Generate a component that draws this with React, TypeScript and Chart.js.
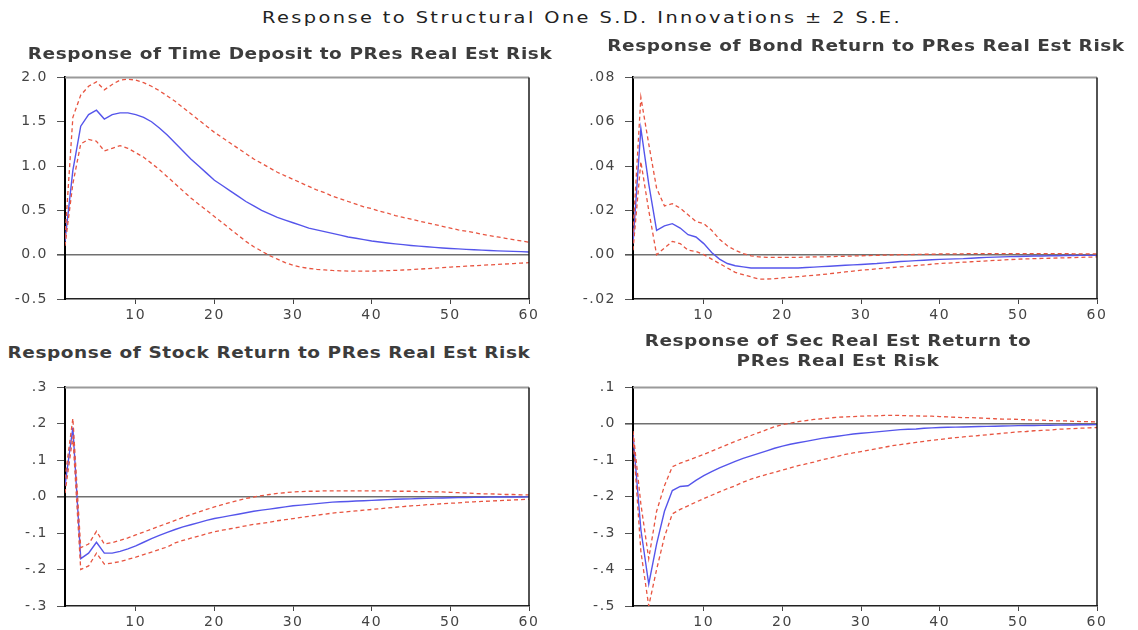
import React, { useEffect, useRef } from "react";
import { Chart, registerables } from "chart.js";

Chart.register(...registerables);

// ---------- data ----------
const PERIODS = Array.from({ length: 60 }, (_, i) => i + 1);
const X_TICKS = [10, 20, 30, 40, 50, 60];

const MAIN_TITLE = "Response to Structural One S.D. Innovations \u00b1 2 S.E.";

const TD_TITLE = ["Response of Time Deposit to PRes Real Est Risk"];
const TD_RESPONSE = [
  0.15, 0.95, 1.45, 1.58, 1.63, 1.53, 1.58, 1.6, 1.6, 1.58,
  1.55, 1.5, 1.43, 1.35, 1.26, 1.17, 1.08, 1.0, 0.92, 0.84,
  0.78, 0.72, 0.66, 0.6, 0.55, 0.5, 0.46, 0.42, 0.39, 0.36,
  0.33, 0.3, 0.28, 0.26, 0.24, 0.22, 0.2, 0.185, 0.17, 0.155,
  0.143, 0.132, 0.122, 0.113, 0.104, 0.096, 0.089, 0.082, 0.076, 0.07,
  0.065, 0.06, 0.055, 0.051, 0.047, 0.043, 0.04, 0.037, 0.034, 0.031,
];
const TD_UPPER = [
  0.2, 1.55, 1.8, 1.9, 1.95, 1.86, 1.92, 1.97, 1.98, 1.97,
  1.94, 1.9, 1.85, 1.79, 1.73, 1.66, 1.59, 1.52, 1.45, 1.38,
  1.32, 1.26, 1.2, 1.14, 1.08, 1.03, 0.98, 0.93, 0.89, 0.85,
  0.81, 0.77, 0.73, 0.7, 0.66, 0.63, 0.6, 0.57, 0.54, 0.52,
  0.49, 0.47, 0.44, 0.42, 0.4, 0.38, 0.36, 0.34, 0.32, 0.3,
  0.28, 0.265, 0.25, 0.23, 0.215, 0.2, 0.185, 0.17, 0.155, 0.14,
];
const TD_LOWER = [
  0.1, 0.8, 1.25, 1.3, 1.28, 1.17, 1.2, 1.23, 1.2, 1.15,
  1.1, 1.03, 0.96, 0.88, 0.8, 0.72, 0.64, 0.57, 0.5, 0.43,
  0.36, 0.29, 0.22, 0.15, 0.09, 0.04, -0.01, -0.05, -0.09, -0.12,
  -0.14, -0.155, -0.165, -0.172, -0.178, -0.182, -0.185, -0.186, -0.186, -0.185,
  -0.183, -0.18, -0.177, -0.173, -0.168, -0.163, -0.158, -0.152, -0.146, -0.14,
  -0.135, -0.13, -0.125, -0.12, -0.115, -0.11, -0.105, -0.1, -0.095, -0.09,
];
const TD_Y_TICKS = [-0.5, 0, 0.5, 1, 1.5, 2];
const TD_Y_LABELS = ["-0.5", "0.0", "0.5", "1.0", "1.5", "2.0"];

const BOND_TITLE = ["Response of Bond Return to PRes Real Est Risk"];
const BOND_RESPONSE = [
  0.005, 0.057, 0.032, 0.011, 0.013, 0.014, 0.012, 0.009, 0.008, 0.005,
  0.001, -0.002, -0.004, -0.005, -0.0055, -0.006, -0.006, -0.006, -0.006, -0.006,
  -0.006, -0.006, -0.0058, -0.0056, -0.0054, -0.0052, -0.005, -0.0048, -0.0046, -0.0044,
  -0.0042, -0.004, -0.0037, -0.0034, -0.0031, -0.0029, -0.0027, -0.0025, -0.0023, -0.0021,
  -0.002, -0.0019, -0.0018, -0.0016, -0.0014, -0.0012, -0.0011, -0.001, -0.0009, -0.0008,
  -0.0007, -0.0006, -0.0006, -0.0005, -0.0005, -0.0004, -0.0004, -0.0003, -0.0003, -0.0003,
];
const BOND_UPPER = [
  0.01, 0.071, 0.05, 0.03, 0.022, 0.023, 0.021, 0.018, 0.015, 0.014,
  0.011, 0.007, 0.004, 0.002, 0.0005, -0.0005, -0.001, -0.0012, -0.0012, -0.0012,
  -0.0012, -0.0012, -0.0011, -0.001, -0.001, -0.0009, -0.0008, -0.0007, -0.0006, -0.0005,
  -0.0004, -0.0003, -0.0002, -0.0001, 0.0, 0.0, 0.0001, 0.0002, 0.0002, 0.0003,
  0.0004, 0.0004, 0.0004, 0.0005, 0.0005, 0.0005, 0.0005, 0.0005, 0.0005, 0.0005,
  0.0005, 0.0005, 0.0005, 0.0005, 0.0005, 0.0005, 0.0004, 0.0004, 0.0004, 0.0004,
];
const BOND_LOWER = [
  0.002, 0.042, 0.02, 0.0, 0.003, 0.006, 0.005, 0.002, 0.0015, 0.0,
  -0.002, -0.004, -0.006, -0.008, -0.009, -0.01, -0.011, -0.011, -0.0108, -0.0105,
  -0.0102, -0.0099, -0.0096, -0.0093, -0.009, -0.0086, -0.0082, -0.0078, -0.0074, -0.007,
  -0.0067, -0.0064, -0.0061, -0.0058, -0.0055, -0.0052, -0.0049, -0.0046, -0.0043, -0.004,
  -0.0038, -0.0036, -0.0034, -0.0032, -0.003, -0.0028, -0.0026, -0.0024, -0.0022, -0.002,
  -0.0019, -0.0018, -0.0017, -0.0016, -0.0015, -0.0014, -0.0013, -0.0012, -0.0011, -0.001,
];
const BOND_Y_TICKS = [-0.02, 0, 0.02, 0.04, 0.06, 0.08];
const BOND_Y_LABELS = ["-.02", ".00", ".02", ".04", ".06", ".08"];

const STOCK_TITLE = ["Response of Stock Return to PRes Real Est Risk"];
const STOCK_RESPONSE = [
  0.03, 0.19, -0.17, -0.155, -0.125, -0.155, -0.155, -0.15, -0.143, -0.135,
  -0.125, -0.115, -0.106, -0.098, -0.09, -0.083, -0.077, -0.071, -0.065, -0.06,
  -0.056, -0.052, -0.048, -0.044, -0.04, -0.037, -0.034, -0.031, -0.028, -0.025,
  -0.023, -0.021, -0.019, -0.017, -0.015, -0.014, -0.013, -0.012, -0.011, -0.01,
  -0.009, -0.008, -0.007, -0.0065, -0.006, -0.005, -0.0045, -0.004, -0.0035, -0.003,
  -0.0025, -0.002, -0.0018, -0.0015, -0.0012, -0.001, -0.001, -0.0008, -0.0007, -0.0006,
];
const STOCK_UPPER = [
  0.05, 0.215, -0.14, -0.13, -0.095, -0.13, -0.126, -0.12, -0.113, -0.105,
  -0.097, -0.089, -0.081, -0.073, -0.065, -0.057, -0.049, -0.042, -0.035, -0.028,
  -0.022, -0.016, -0.01, -0.005, -0.001, 0.003, 0.006, 0.009, 0.011, 0.013,
  0.014, 0.015, 0.015, 0.016, 0.016, 0.016, 0.016, 0.016, 0.016, 0.016,
  0.016, 0.016, 0.015, 0.015, 0.015, 0.014, 0.014, 0.013, 0.013, 0.012,
  0.011, 0.01, 0.009, 0.008, 0.008, 0.007, 0.006, 0.006, 0.005, 0.005,
];
const STOCK_LOWER = [
  0.01, 0.165, -0.2, -0.19, -0.155, -0.185, -0.182, -0.178, -0.172, -0.166,
  -0.159, -0.152, -0.145, -0.138, -0.127, -0.12, -0.114, -0.108, -0.102, -0.096,
  -0.092, -0.088, -0.084, -0.08, -0.076, -0.073, -0.07, -0.066, -0.063, -0.06,
  -0.057, -0.054, -0.051, -0.048, -0.045, -0.043, -0.041, -0.039, -0.037, -0.035,
  -0.033, -0.031, -0.029, -0.027, -0.025, -0.024, -0.022, -0.021, -0.019, -0.018,
  -0.017, -0.015, -0.014, -0.013, -0.012, -0.011, -0.01, -0.009, -0.008, -0.007,
];
const STOCK_Y_TICKS = [-0.3, -0.2, -0.1, 0, 0.1, 0.2, 0.3];
const STOCK_Y_LABELS = ["-.3", "-.2", "-.1", ".0", ".1", ".2", ".3"];

const SEC_TITLE = ["Response of Sec Real Est Return to", "PRes Real Est Risk"];
const SEC_RESPONSE = [
  -0.03, -0.29, -0.44, -0.33, -0.24, -0.183, -0.172, -0.17, -0.155, -0.142,
  -0.131, -0.121, -0.112, -0.103, -0.095, -0.088, -0.081, -0.074, -0.067, -0.061,
  -0.056, -0.052, -0.048, -0.044, -0.04, -0.037, -0.034, -0.031, -0.028, -0.026,
  -0.024, -0.022, -0.02, -0.018, -0.016, -0.015, -0.014, -0.012, -0.011, -0.01,
  -0.0095, -0.009, -0.0085, -0.008, -0.0075, -0.007, -0.0065, -0.006, -0.0055, -0.005,
  -0.0047, -0.0044, -0.0041, -0.0038, -0.0035, -0.0032, -0.003, -0.0027, -0.0025, -0.0022,
];
const SEC_UPPER = [
  -0.02, -0.22, -0.37, -0.24, -0.17, -0.118, -0.108, -0.1, -0.092, -0.084,
  -0.075, -0.066, -0.057, -0.048, -0.04, -0.032, -0.024, -0.016, -0.008, -0.002,
  0.002, 0.006, 0.009, 0.012, 0.014, 0.016, 0.018, 0.019, 0.02, 0.021,
  0.022, 0.022, 0.023, 0.023, 0.023, 0.022, 0.022, 0.021, 0.021, 0.02,
  0.019, 0.018, 0.017, 0.017, 0.016, 0.015, 0.014, 0.013, 0.013, 0.012,
  0.011, 0.01, 0.01, 0.009, 0.008, 0.008, 0.007, 0.006, 0.006, 0.005,
];
const SEC_LOWER = [
  -0.035, -0.35, -0.5, -0.4, -0.31, -0.247, -0.235, -0.225, -0.215, -0.205,
  -0.196, -0.187, -0.178, -0.17, -0.16, -0.152, -0.145, -0.139, -0.133, -0.127,
  -0.121, -0.115, -0.11, -0.105, -0.099, -0.094, -0.089, -0.084, -0.08, -0.076,
  -0.072, -0.068, -0.064, -0.06, -0.057, -0.054, -0.051, -0.048, -0.045, -0.043,
  -0.04, -0.038, -0.036, -0.034, -0.032, -0.03, -0.028, -0.026, -0.024, -0.022,
  -0.021, -0.019, -0.018, -0.017, -0.015, -0.014, -0.013, -0.012, -0.011, -0.01,
];
const SEC_Y_TICKS = [-0.5, -0.4, -0.3, -0.2, -0.1, 0, 0.1];
const SEC_Y_LABELS = ["-.5", "-.4", "-.3", "-.2", "-.1", ".0", ".1"];

// ---------- layout / style ----------
const FONT = "'DejaVu Sans', 'Liberation Sans', sans-serif";
const BLUE = "rgb(85, 85, 235)";
const RED = "rgb(232, 85, 65)";

type PanelSpec = {
  title: string[];
  response: number[];
  upper: number[];
  lower: number[];
  yTicks: number[];
  yLabels: string[];
  box: { left: number; top: number; width: number; height: number };
  yAxisWidth: number;
  padTop: number;
  padRight: number;
  xAxisHeight: number;
  titleBox: { cx: number; top: number };
};

const PANELS: PanelSpec[] = [
  {
    title: TD_TITLE, response: TD_RESPONSE, upper: TD_UPPER, lower: TD_LOWER,
    yTicks: TD_Y_TICKS, yLabels: TD_Y_LABELS,
    box: { left: 0, top: 60, width: 569, height: 265 },
    yAxisWidth: 65, padTop: 17, padRight: 40, xAxisHeight: 26,
    titleBox: { cx: 290, top: 44 },
  },
  {
    title: BOND_TITLE, response: BOND_RESPONSE, upper: BOND_UPPER, lower: BOND_LOWER,
    yTicks: BOND_Y_TICKS, yLabels: BOND_Y_LABELS,
    box: { left: 569, top: 60, width: 569, height: 265 },
    yAxisWidth: 64, padTop: 17, padRight: 41, xAxisHeight: 26,
    titleBox: { cx: 866, top: 36 },
  },
  {
    title: STOCK_TITLE, response: STOCK_RESPONSE, upper: STOCK_UPPER, lower: STOCK_LOWER,
    yTicks: STOCK_Y_TICKS, yLabels: STOCK_Y_LABELS,
    box: { left: 0, top: 370, width: 569, height: 260 },
    yAxisWidth: 65, padTop: 15, padRight: 40, xAxisHeight: 24,
    titleBox: { cx: 269, top: 343 },
  },
  {
    title: SEC_TITLE, response: SEC_RESPONSE, upper: SEC_UPPER, lower: SEC_LOWER,
    yTicks: SEC_Y_TICKS, yLabels: SEC_Y_LABELS,
    box: { left: 569, top: 370, width: 569, height: 260 },
    yAxisWidth: 64, padTop: 15, padRight: 41, xAxisHeight: 24,
    titleBox: { cx: 838, top: 331 },
  },
];

const framePlugin = {
  id: "frameTopRight",
  beforeDraw(chart: any) {
    try {
      chart.ctx.letterSpacing = "1.5px";
    } catch (e) {}
  },
  afterDatasetsDraw(chart: any) {
    const { ctx, chartArea: a } = chart;
    ctx.save();
    ctx.strokeStyle = "#9a9a9a";
    ctx.lineWidth = 2;
    ctx.beginPath();
    ctx.moveTo(a.left, a.top);
    ctx.lineTo(a.right, a.top);
    ctx.stroke();
    ctx.strokeStyle = "#1a1a1a";
    ctx.lineWidth = 1.5;
    ctx.beginPath();
    ctx.moveTo(a.right, a.top);
    ctx.lineTo(a.right, a.bottom);
    ctx.stroke();
    ctx.restore();
  },
};

function Panel({ spec }: { spec: PanelSpec }) {
  const ref = useRef<HTMLCanvasElement | null>(null);
  useEffect(() => {
    if (!ref.current) return;
    const yMin = spec.yTicks[0];
    const yMax = spec.yTicks[spec.yTicks.length - 1];
    const band = (data: number[]) => ({
      data,
      borderColor: RED,
      borderWidth: 1.3,
      borderDash: [4, 3],
      pointRadius: 0,
      fill: false,
      tension: 0,
    });
    const chart = new Chart(ref.current, {
      type: "line",
      data: {
        labels: PERIODS,
        datasets: [
          band(spec.upper),
          band(spec.lower),
          {
            data: spec.response,
            borderColor: BLUE,
            borderWidth: 1.4,
            pointRadius: 0,
            fill: false,
            tension: 0,
          },
        ],
      },
      options: {
        animation: false,
        responsive: false,
        devicePixelRatio: 1,
        events: [],
        layout: { padding: { left: 0, top: spec.padTop, right: spec.padRight, bottom: 0 } },
        plugins: {
          legend: { display: false },
          tooltip: { enabled: false },
          title: { display: false },
        },
        scales: {
          x: {
            type: "linear",
            min: 1,
            max: 60,
            afterBuildTicks: (s: any) => {
              s.ticks = X_TICKS.map((v) => ({ value: v }));
            },
            afterFit: (s: any) => {
              s.height = spec.xAxisHeight;
            },
            grid: { drawOnChartArea: false, drawTicks: true, tickLength: 5, tickColor: "#444", tickWidth: 1 },
            border: { color: "#222", width: 1.5 },
            ticks: {
              font: { family: FONT, size: 14 },
              color: "#444",
              padding: 3,
              maxRotation: 0,
              autoSkip: false,
              callback: (v: any) => String(v),
            },
          },
          y: {
            type: "linear",
            min: yMin,
            max: yMax,
            afterBuildTicks: (s: any) => {
              s.ticks = spec.yTicks.map((v) => ({ value: v }));
            },
            afterFit: (s: any) => {
              s.width = spec.yAxisWidth;
            },
            grid: {
              drawOnChartArea: true,
              drawTicks: true,
              tickLength: 8,
              tickColor: "#555",
              color: (c: any) => (c.tick && c.tick.value === 0 ? "#707070" : "rgba(0,0,0,0)"),
              lineWidth: (c: any) => (c.tick && c.tick.value === 0 ? 1.6 : 1),
            },
            border: { color: "#000", width: 2 },
            ticks: {
              font: { family: FONT, size: 14 },
              color: "#444",
              padding: 9,
              autoSkip: false,
              callback: (v: any) => {
                const i = spec.yTicks.indexOf(v);
                return i >= 0 ? spec.yLabels[i] : "";
              },
            },
          },
        },
      },
      plugins: [framePlugin],
    } as any);
    return () => chart.destroy();
  }, [spec]);

  const b = spec.box;
  return (
    <>
      <canvas
        ref={ref}
        width={b.width}
        height={b.height}
        style={{ position: "absolute", left: b.left, top: b.top, width: b.width, height: b.height }}
      />
      <div
        style={{
          position: "absolute",
          left: spec.titleBox.cx - 300,
          top: spec.titleBox.top,
          width: 600,
          textAlign: "center",
          fontFamily: FONT,
          fontWeight: "bold",
          fontSize: 16,
          lineHeight: "20px",
          letterSpacing: "0.5px",
          color: "#3c3c3c",
          whiteSpace: "nowrap",
          transform: "scaleX(1.155)",
          transformOrigin: "50% 50%",
        }}
      >
        {spec.title.map((t, i) => (
          <div key={i}>{t}</div>
        ))}
      </div>
    </>
  );
}

export default function App() {
  return (
    <div
      style={{
        position: "fixed",
        left: 0,
        top: 0,
        width: 1138,
        height: 630,
        background: "#fff",
        overflow: "hidden",
      }}
    >
      <div
        style={{
          position: "absolute",
          left: 582 - 400,
          top: 8,
          width: 800,
          textAlign: "center",
          fontFamily: FONT,
          fontSize: 16,
          lineHeight: "20px",
          letterSpacing: "2px",
          color: "#222",
          whiteSpace: "nowrap",
          transform: "scaleX(1.21)",
          transformOrigin: "50% 50%",
        }}
      >
        {MAIN_TITLE}
      </div>
      {PANELS.map((p, i) => (
        <Panel key={i} spec={p} />
      ))}
    </div>
  );
}
